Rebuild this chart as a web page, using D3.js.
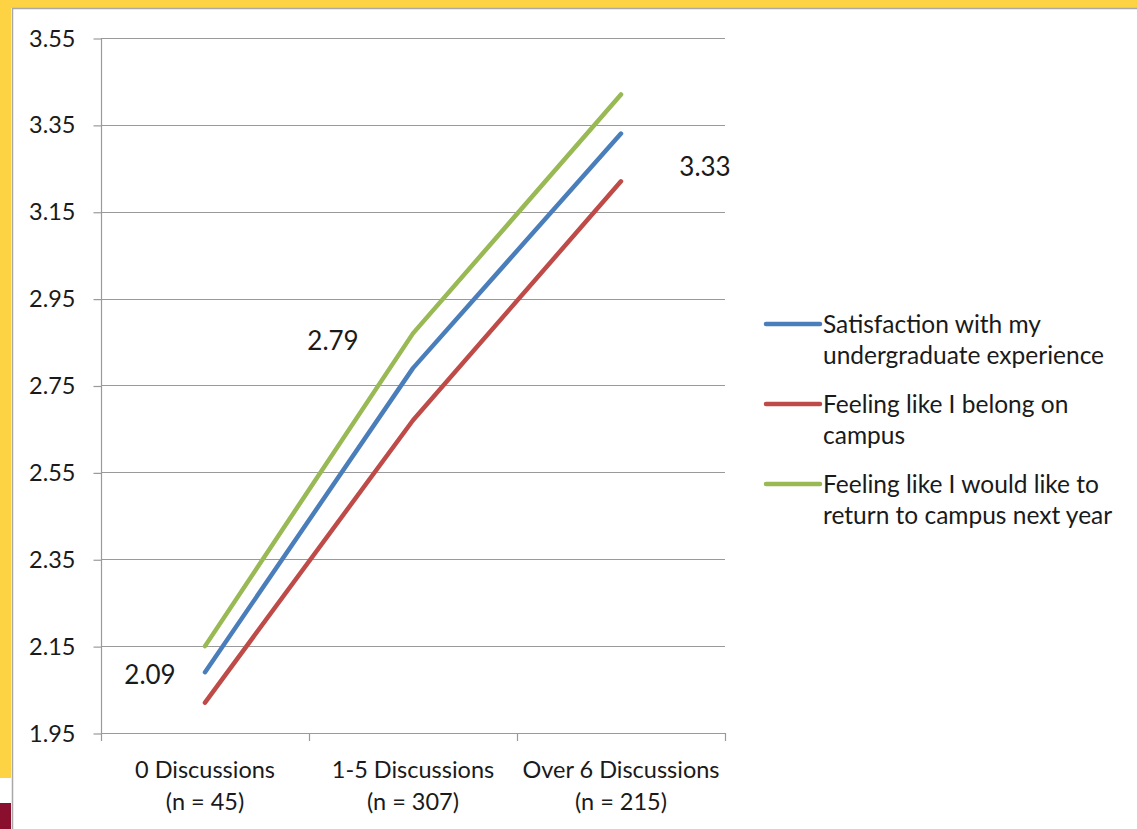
<!DOCTYPE html>
<html>
<head>
<meta charset="utf-8">
<script src="https://cdn.jsdelivr.net/npm/d3@7"></script>
<style>
  html, body { margin: 0; padding: 0; background: #fff; }
  svg { display: block; }
  text { font-family: Lato, "Open Sans", sans-serif; fill: #1a1a1a; }
</style>
</head>
<body>
<svg id="chart" width="1137" height="829"></svg>
<script>
// Discussion groups along the x axis
const categories = ["0 Discussions", "1-5 Discussions", "Over 6 Discussions"];
const sampleSizes = ["(n = 45)", "(n = 307)", "(n = 215)"];

// Mean scores per outcome
const satisfaction = [2.09, 2.79, 3.33];
const belonging = [2.02, 2.67, 3.22];
const returning = [2.15, 2.87, 3.42];

const seriesNames = [
  ["Satisfaction with my", "undergraduate experience"],
  ["Feeling like I belong on", "campus"],
  ["Feeling like I would like to", "return to campus next year"]
];
const seriesColors = ["#4a7ebb", "#be4b48", "#98b954"];

const yTicks = [1.95, 2.15, 2.35, 2.55, 2.75, 2.95, 3.15, 3.35, 3.55];

const series = [satisfaction, belonging, returning].map((values, i) => ({
  name: seriesNames[i], color: seriesColors[i], values
}));

const svg = d3.select("#chart");

// Frame: yellow band on top and left, maroon block at bottom-left
svg.append("rect").attr("x", 0).attr("y", 0).attr("width", 1137).attr("height", 8).attr("fill", "#fdd344");
svg.append("rect").attr("x", 0).attr("y", 0).attr("width", 11).attr("height", 778).attr("fill", "#fdd344");
svg.append("rect").attr("x", 0).attr("y", 803).attr("width", 11).attr("height", 26).attr("fill", "#8a0f2e");
svg.append("line").attr("x1", 12).attr("x2", 1137).attr("y1", 8.5).attr("y2", 8.5).attr("stroke", "#a8a8a8").attr("stroke-width", 1.5);
svg.append("line").attr("x1", 12.5).attr("x2", 12.5).attr("y1", 8).attr("y2", 829).attr("stroke", "#a8a8a8").attr("stroke-width", 1.5);

const plotLeft = 101, plotRight = 725, plotTop = 38, plotBottom = 733;

const x = d3.scaleBand().domain(categories).range([plotLeft, plotRight]);
const y = d3.scaleLinear().domain([1.95, 3.55]).range([plotBottom, plotTop]);

// Horizontal gridlines
svg.append("g")
  .selectAll("line")
  .data(yTicks)
  .join("line")
  .attr("x1", plotLeft).attr("x2", plotRight)
  .attr("y1", d => Math.round(y(d)) + 0.5).attr("y2", d => Math.round(y(d)) + 0.5)
  .attr("stroke", "#9a9a9a").attr("stroke-width", 1.2);

// Y axis
const yAxis = svg.append("g")
  .attr("transform", `translate(${plotLeft + 0.5},0.5)`)
  .call(d3.axisLeft(y).tickValues(yTicks).tickFormat(d3.format(".2f")).tickSize(8).tickPadding(18));
yAxis.select(".domain").attr("stroke", "#9a9a9a").attr("stroke-width", 1.2).attr("d", `M0,${plotTop}V${plotBottom}`);
yAxis.selectAll(".tick line").attr("stroke", "#9a9a9a").attr("stroke-width", 1.2);
yAxis.selectAll(".tick text").attr("font-size", 23.5).attr("font-family", "Lato, sans-serif").attr("fill", "#1a1a1a");

// X axis with boundary ticks between categories
svg.append("line").attr("x1", plotLeft).attr("x2", plotRight).attr("y1", plotBottom + 0.5).attr("y2", plotBottom + 0.5)
  .attr("stroke", "#9a9a9a").attr("stroke-width", 1.2);
const boundaries = categories.map(c => x(c)).concat([x(categories[categories.length - 1]) + x.bandwidth()]);
svg.append("g").selectAll("line").data(boundaries).join("line")
  .attr("x1", d => Math.round(d) + 0.5).attr("x2", d => Math.round(d) + 0.5)
  .attr("y1", plotBottom).attr("y2", plotBottom + 8)
  .attr("stroke", "#9a9a9a").attr("stroke-width", 1.2);

const xLabels = svg.append("g").selectAll("text").data(categories).join("text")
  .attr("x", d => x(d) + x.bandwidth() / 2)
  .attr("text-anchor", "middle")
  .attr("font-size", 23.5);
xLabels.append("tspan").attr("x", d => x(d) + x.bandwidth() / 2).attr("y", 778).text(d => d);
xLabels.append("tspan").attr("x", d => x(d) + x.bandwidth() / 2).attr("y", 810).text((d, i) => sampleSizes[i]);

// Lines
const line = d3.line()
  .x((d, i) => x(categories[i]) + x.bandwidth() / 2)
  .y(d => y(d));

svg.append("g").selectAll("path").data(series).join("path")
  .attr("d", d => line(d.values))
  .attr("fill", "none")
  .attr("stroke", d => d.color)
  .attr("stroke-width", 4.5)
  .attr("stroke-linecap", "round")
  .attr("stroke-linejoin", "round");

// Value labels for the satisfaction series
const labelOffsets = [[-55, 12], [-80, -18], [84, 42]];
svg.append("g").selectAll("text").data(satisfaction).join("text")
  .attr("x", (d, i) => x(categories[i]) + x.bandwidth() / 2 + labelOffsets[i][0])
  .attr("y", (d, i) => y(d) + labelOffsets[i][1])
  .attr("text-anchor", "middle")
  .attr("font-size", 26)
  .text(d => d3.format(".2f")(d));

// Legend
const legend = svg.append("g").selectAll("g").data(series).join("g")
  .attr("transform", (d, i) => `translate(766,${324 + i * 80})`);
legend.append("line").attr("x1", 0).attr("x2", 54).attr("y1", 0).attr("y2", 0)
  .attr("stroke", d => d.color).attr("stroke-width", 4.5).attr("stroke-linecap", "round");
const lt = legend.append("text").attr("font-size", 24.5);
lt.append("tspan").attr("x", 57).attr("y", 9).text(d => d.name[0]);
lt.append("tspan").attr("x", 57).attr("y", 40).text(d => d.name[1]);
</script>
</body>
</html>
